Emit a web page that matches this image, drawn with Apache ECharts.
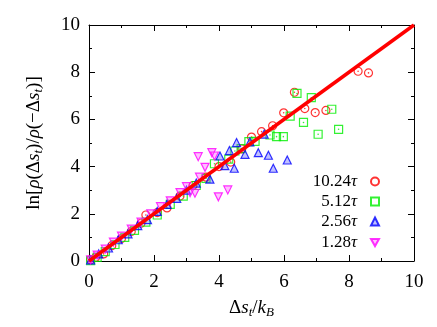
<!DOCTYPE html>
<html><head><meta charset="utf-8">
<script src="https://cdn.jsdelivr.net/npm/echarts@6/dist/echarts.min.js"></script>
<style>html,body{margin:0;padding:0;background:#fff}#c{width:437px;height:327px}</style>
</head><body><div id="c"></div>
<script>
const seriesNames = ['10.24τ', '5.12τ', '2.56τ', '1.28τ'];
const xTickLabels = ['0', '2', '4', '6', '8', '10'];
const yTickLabels = ['0', '2', '4', '6', '8', '10'];
const fitLine = [[0, 0], [10, 10]];
const red1024 = [[0.05,0.05],[0.2,0.15],[0.45,0.3],[0.7,0.65],[1.0,0.95],[1.3,1.25],[1.6,1.6],[1.75,1.95],[2.1,2.05],[2.4,2.25],[2.8,2.75],[3.2,3.2],[3.6,3.55],[4.0,4.0],[4.36,4.19],[4.7,4.75],[5.0,5.25],[5.31,5.48],[5.65,5.73],[5.99,6.28],[6.32,7.15],[6.64,6.46],[6.96,6.29],[7.29,6.38],[8.28,8.04],[8.6,7.97]];
const green512 = [[0.05,0.02],[0.25,0.15],[0.5,0.4],[0.8,0.7],[1.1,1.0],[1.4,1.3],[1.75,1.65],[2.1,1.95],[2.5,2.4],[2.9,2.75],[3.3,3.2],[3.6,3.5],[3.86,4.12],[4.3,4.32],[4.49,4.66],[4.68,4.76],[4.92,5.06],[5.11,5.07],[5.57,5.34],[5.77,5.27],[5.98,5.27],[6.19,6.14],[6.4,7.1],[6.6,5.87],[6.84,6.92],[7.05,5.37],[7.47,6.43],[7.68,5.58]];
const blue256 = [[0.05,0.05],[0.3,0.3],[0.6,0.55],[0.9,0.9],[1.2,1.15],[1.5,1.5],[1.8,1.75],[2.1,2.1],[2.4,2.4],[2.7,2.65],[3.0,3.0],[3.3,3.3],[3.72,3.47],[4.03,4.45],[4.18,4.04],[4.32,4.68],[4.47,3.93],[4.54,5.02],[4.8,4.52],[4.95,5.05],[5.21,4.59],[5.39,5.38],[5.52,4.48],[5.67,3.93],[6.1,4.28]];
const magenta128 = [[0.05,0.05],[0.25,0.25],[0.5,0.5],[0.75,0.8],[1.0,1.05],[1.3,1.35],[1.6,1.65],[1.9,2.0],[2.2,2.3],[2.5,2.55],[2.8,2.9],[3.0,3.15],[3.11,2.9],[3.26,2.87],[3.36,4.42],[3.4,3.55],[3.57,3.97],[3.78,4.59],[3.86,4.45],[3.98,2.72],[4.27,3.01]];

const FONT = 'Liberation Serif';
const chart = echarts.init(document.getElementById('c'), null, {renderer: 'canvas'});
const mathRich = {
  r: {fontFamily: FONT, fontSize: 19, color: '#000'},
  i: {fontFamily: FONT, fontSize: 19, fontStyle: 'italic', color: '#000'},
  s: {fontFamily: FONT, fontSize: 13, fontStyle: 'italic', color: '#000', padding: [9, 0, 0, 0]},
  su: {fontFamily: FONT, fontSize: 13, fontStyle: 'italic', color: '#000', padding: [9, 0, 0, 0]}
};
function ax(position, interval, tickLen, showLine, extra) {
  return Object.assign({
    type: 'value', min: 0, max: 10, interval: interval, position: position,
    axisLine: {show: showLine, onZero: false, lineStyle: {color: '#000', width: 1}},
    axisTick: {show: true, inside: true, length: tickLen, lineStyle: {color: '#000'}},
    axisLabel: {show: false},
    splitLine: {show: false}
  }, extra || {});
}
function mk(name, data, symbol, color, fill, size) {
  return {
    name: name, type: 'scatter', data: data, symbol: symbol, symbolSize: size,
    itemStyle: {color: fill, borderColor: color, borderWidth: 1.2}
  };
}
function dots(data, color) {
  return {type: 'scatter', data: data, symbol: 'circle', symbolSize: 1.6, silent: true,
    itemStyle: {color: color}};
}
const legendTops = [168, 188, 208, 229];
chart.setOption({
  animation: false,
  grid: {left: 89, right: 23, top: 25, bottom: 66, show: false},
  legend: seriesNames.map((n, k) => ({
    data: [n], orient: 'vertical', right: 52, top: legendTops[k], align: 'right',
    itemWidth: 8, itemHeight: 8, selectedMode: false,
    formatter: nm => '{n|' + nm.slice(0, -1) + '}{i|τ}',
    textStyle: {rich: {
      n: {fontFamily: FONT, fontSize: 17, color: '#000'},
      i: {fontFamily: FONT, fontSize: 17, fontStyle: 'italic', color: '#000', padding: [0, 9, 0, 0]}
    }}
  })),
  xAxis: [
    ax('bottom', 2, 6, true, {
      axisLabel: {show: true, fontFamily: FONT, fontSize: 19, color: '#000', margin: 12,
        formatter: (v) => xTickLabels[Math.round(v / 2)]},
      name: '{r|Δ}{i|s}{s|t}{r|/}{i|k}{su|B}', nameLocation: 'middle', nameGap: 36,
      nameTextStyle: {rich: mathRich}
    }),
    ax('top', 2, 6, true),
    ax('bottom', 1, 3, false),
    ax('top', 1, 3, false)
  ],
  yAxis: [
    ax('left', 2, 6, true, {
      axisLabel: {show: true, fontFamily: FONT, fontSize: 19, color: '#000', margin: 9,
        formatter: (v) => yTickLabels[Math.round(v / 2)]},
      name: '{r|ln[}{i|ρ}{r|(Δ}{i|s}{s|t}{r|)/}{i|ρ}{r|(−Δ}{i|s}{s|t}{r|)]}',
      nameLocation: 'middle', nameGap: 44, nameRotate: 90,
      nameTextStyle: {rich: mathRich}
    }),
    ax('right', 2, 6, true),
    ax('left', 1, 3, false),
    ax('right', 1, 3, false)
  ],
  series: [
    mk(seriesNames[0], red1024, 'circle', '#ff0000', 'rgba(255,255,255,0)', 8),
    dots(red1024, '#ff0000'),
    mk(seriesNames[1], green512, 'rect', '#00ee00', 'rgba(255,255,255,0)', 8),
    dots(green512, '#00ee00'),
    mk(seriesNames[2], blue256, 'triangle', '#0000ff', 'rgba(80,80,255,0.45)', 8),
    mk(seriesNames[3], magenta128, 'path://M0,0 L10,0 L5,9 Z', '#ff00ff', 'rgba(255,80,255,0.45)', 8),
    {type: 'line', data: fitLine, symbol: 'none', silent: true, z: 5,
      lineStyle: {color: '#ff0000', width: 3.5}}
  ]
});
</script></body></html>
